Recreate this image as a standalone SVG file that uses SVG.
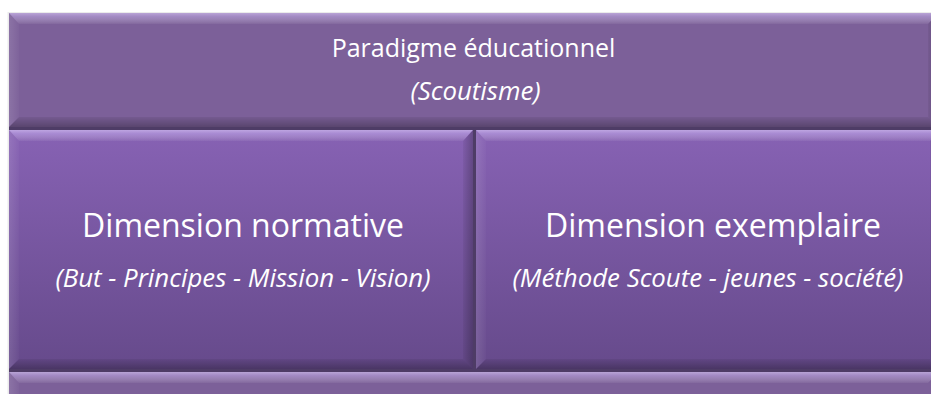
<svg xmlns="http://www.w3.org/2000/svg" width="931" height="394" viewBox="0 0 931 394">
<defs>
<linearGradient id="gMid" x1="0" y1="0" x2="0" y2="1">
<stop offset="0" stop-color="#8762B4"/>
<stop offset="1" stop-color="#664A8B"/>
</linearGradient>
<linearGradient id="gTop" x1="0" y1="0" x2="0" y2="1">
<stop offset="0" stop-color="#E2D2FF" stop-opacity="0.6"/>
<stop offset="0.35" stop-color="#D8C4FF" stop-opacity="0.4"/>
<stop offset="1" stop-color="#ffffff" stop-opacity="0.05"/>
</linearGradient>
<linearGradient id="gBot" x1="0" y1="0" x2="0" y2="1">
<stop offset="0" stop-color="#000000" stop-opacity="0.06"/>
<stop offset="1" stop-color="#000000" stop-opacity="0.28"/>
</linearGradient>
<linearGradient id="gLeft" x1="0" y1="0" x2="1" y2="0">
<stop offset="0" stop-color="#ffffff" stop-opacity="0.12"/>
<stop offset="1" stop-color="#ffffff" stop-opacity="0.02"/>
</linearGradient>
<linearGradient id="gRight" x1="0" y1="0" x2="1" y2="0">
<stop offset="0" stop-color="#000000" stop-opacity="0.05"/>
<stop offset="1" stop-color="#000000" stop-opacity="0.25"/>
</linearGradient>
</defs>
<style>
.shadow{fill:#000;fill-opacity:0.08}
.gap{fill:#4E3C66}
.top{fill:url(#gTop)}
.bot{fill:url(#gBot)}
.lft{fill:url(#gLeft)}
.rgt{fill:url(#gRight)}
.flat{fill:#7C6099}
.mid{fill:url(#gMid)}
text{fill:#ffffff;font-family:"Open Sans","Noto Sans",sans-serif;text-anchor:middle}
.t1{font-size:25px}
.s1{font-size:25.8px;font-style:italic}
.t2{font-size:32px}
.s2{font-size:25.8px;font-style:italic}
</style>
<rect width="931" height="394" fill="#ffffff"/>
<rect class="shadow" x="7.5" y="12" width="935" height="390"/>
<rect class="gap" x="9" y="126" width="931" height="5"/>
<rect class="gap" x="472" y="130" width="5" height="240"/>
<rect class="gap" x="9" y="368" width="931" height="5"/>

<g id="paradigme">
<rect class="flat" x="9" y="13" width="929" height="114"/>
<polygon class="top" points="9,13 938,13 928,24 19,24"/>
<polygon class="lft" points="9,13 19,24 19,117 9,127"/>
<polygon class="bot" points="9,127 938,127 928,117 19,117"/>
<polygon class="rgt" points="938,13 928,24 928,117 938,127"/>
<text class="t1" x="473.5" y="57">Paradigme éducationnel</text>
<text class="s1" x="475.5" y="100">(Scoutisme)</text>
</g>

<g id="normative">
<rect class="mid" x="9" y="130" width="464" height="239"/>
<polygon class="top" points="9,130 473,130 463,141 19,141"/>
<polygon class="lft" points="9,130 19,141 19,359 9,369"/>
<polygon class="bot" points="9,369 473,369 463,359 19,359"/>
<polygon class="rgt" points="473,130 463,141 463,359 473,369"/>
<text class="t2" x="243" y="236.5">Dimension normative</text>
<text class="s2" x="243" y="286.5">(But - Principes - Mission - Vision)</text>
</g>

<g id="exemplaire">
<rect class="mid" x="476" y="130" width="464" height="239"/>
<polygon class="top" points="476,130 940,130 930,141 486,141"/>
<polygon class="lft" points="476,130 486,141 486,359 476,369"/>
<polygon class="bot" points="476,369 940,369 930,359 486,359"/>
<polygon class="rgt" points="940,130 930,141 930,359 940,369"/>
<text class="t2" x="713" y="236.5">Dimension exemplaire</text>
<text class="s2" x="708" y="286.5">(Méthode Scoute - jeunes - société)</text>
</g>

<g id="socle">
<rect class="flat" x="9" y="372" width="929" height="40"/>
<polygon class="top" points="9,372 938,372 928,383 19,383"/>
<polygon class="lft" points="9,372 19,383 19,402 9,412"/>
</g>

<g id="connectors"></g>
</svg>
